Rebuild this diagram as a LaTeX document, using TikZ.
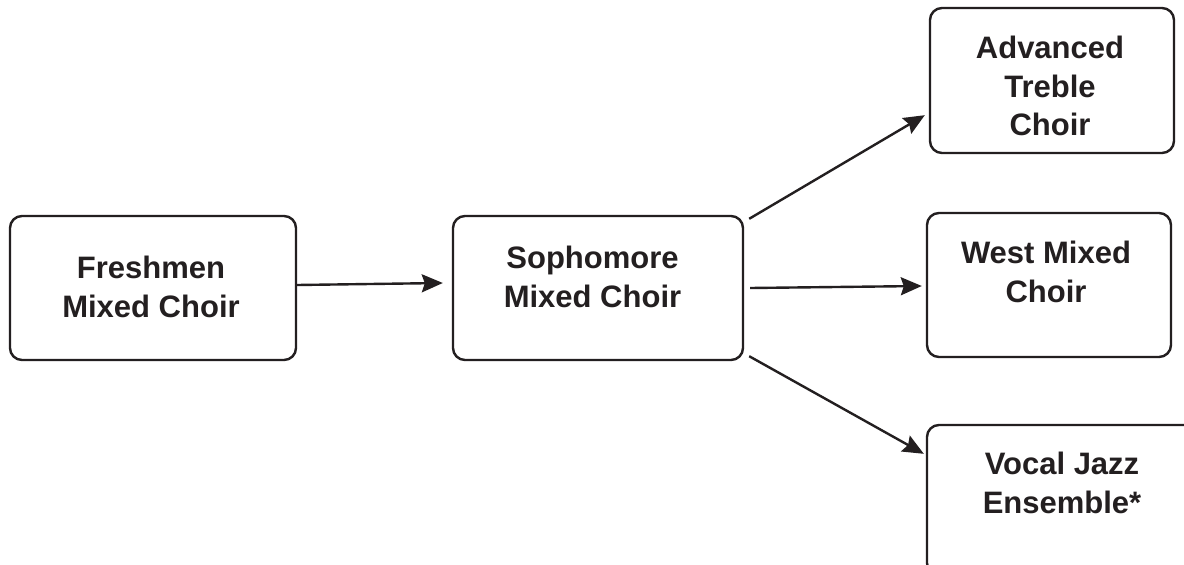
\documentclass[tikz,border=0pt]{standalone}
\usepackage{fontspec}
\setmainfont{Liberation Sans}
\usetikzlibrary{arrows.meta,calc}
\definecolor{ink}{HTML}{231F20}
\begin{document}
\begin{tikzpicture}[x=1pt,y=-1pt,
  box/.style={draw=ink,line width=2.4pt,rounded corners=12pt,inner sep=0pt},
  lbl/.style={text=ink,align=center,font=\fontsize{31}{38.5}\selectfont\bfseries},
  conn/.style={draw=ink,line width=2.4pt,-{Stealth[length=21pt,width=18pt,inset=3pt]}}]
\clip (0,0) rectangle (1184,565);
\fill[white] (0,0) rectangle (1184,565);
% boxes
\node[box,minimum width=286pt,minimum height=144pt] (fresh) at (153,288) {};
\node[box,minimum width=290pt,minimum height=144pt] (soph) at (598,288) {};
\node[box,minimum width=244pt,minimum height=145pt] (adv) at (1052,80.5) {};
\node[box,minimum width=244pt,minimum height=144pt] (west) at (1049,285) {};
\node[box,minimum width=273pt,minimum height=150pt] (vocal) at (1063.5,500) {};
% labels
\node[lbl] (ft) at (151,287) {Freshmen\\Mixed Choir};
\node[lbl] (st) at (592.5,277) {Sophomore\\Mixed Choir};
\node[lbl] (at) at (1050,86) {Advanced\\Treble\\Choir};
\node[lbl] (wt) at (1046,272) {West Mixed\\Choir};
\node[lbl] (vt) at (1062,483) {Vocal Jazz\\Ensemble*};
% connectors
\draw[conn] ($(fresh.east)+(0,-3)$) -- ($(soph.west)+(-9,-5)$);
\draw[conn] ($(soph.north east)+(5,4)$) -- ($(adv.south west)+(-4,-39)$);
\draw[conn] ($(soph.east)+(6,0)$) -- ($(west.west)+(-4,1)$);
\draw[conn] ($(soph.south east)+(5,-5)$) -- ($(vocal.north west)+(-2,30)$);
\end{tikzpicture}
\end{document}
